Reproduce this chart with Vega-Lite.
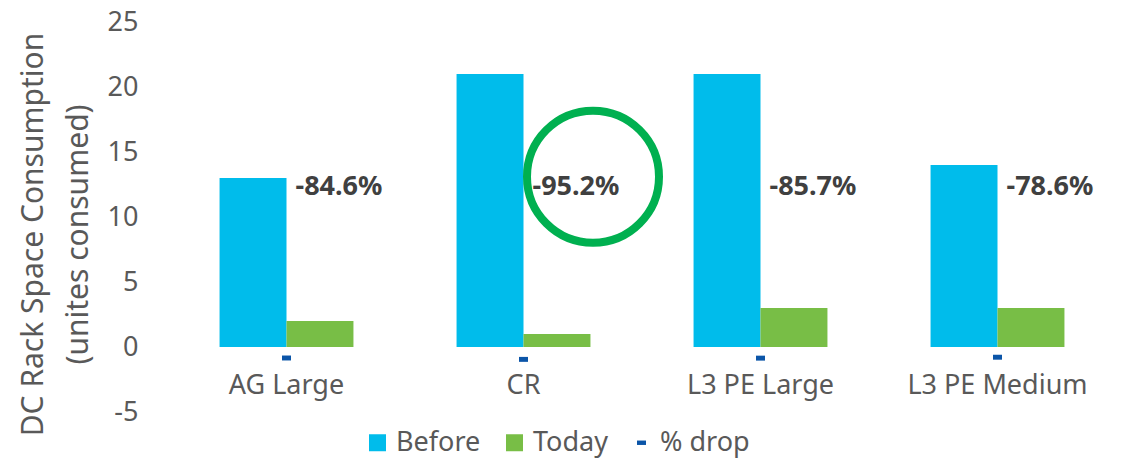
{
  "$schema": "https://vega.github.io/schema/vega-lite/v6.json",
  "width": 948,
  "height": 390,
  "autosize": {"type": "none"},
  "padding": {"left": 168, "top": 22, "right": 8, "bottom": 49},
  "background": "white",
  "config": {
    "view": {"stroke": null},
    "font": "Noto Sans"
  },
  "data": {
    "values": [
      {"cat": "AG Large", "series": "Before", "value": 13},
      {"cat": "AG Large", "series": "Today", "value": 2},
      {"cat": "CR", "series": "Before", "value": 21},
      {"cat": "CR", "series": "Today", "value": 1},
      {"cat": "L3 PE Large", "series": "Before", "value": 21},
      {"cat": "L3 PE Large", "series": "Today", "value": 3},
      {"cat": "L3 PE Medium", "series": "Before", "value": 14},
      {"cat": "L3 PE Medium", "series": "Today", "value": 3},
      {"cat": "AG Large", "series": "% drop", "value": -0.846, "label": "-84.6%"},
      {"cat": "CR", "series": "% drop", "value": -0.952, "label": "-95.2%"},
      {"cat": "L3 PE Large", "series": "% drop", "value": -0.857, "label": "-85.7%"},
      {"cat": "L3 PE Medium", "series": "% drop", "value": -0.786, "label": "-78.6%"}
    ]
  },
  "encoding": {
    "x": {
      "field": "cat",
      "type": "nominal",
      "sort": ["AG Large", "CR", "L3 PE Large", "L3 PE Medium"],
      "scale": {"paddingInner": 0, "paddingOuter": 0},
      "axis": {
        "title": null,
        "orient": "bottom",
        "offset": -65,
        "domain": false,
        "ticks": false,
        "tickSize": 0,
        "labelAngle": 0,
        "labelFontSize": 27,
        "labelLimit": 400,
        "labelColor": "#595959",
        "labelPadding": 25
      }
    }
  },
  "layer": [
    {
      "transform": [{"filter": "datum.series !== '% drop'"}],
      "mark": {"type": "bar"},
      "encoding": {
        "xOffset": {
          "field": "series",
          "type": "nominal",
          "scale": {"domain": ["Before", "Today"], "paddingInner": 0, "paddingOuter": 0.77}
        },
        "y": {
          "field": "value",
          "type": "quantitative",
          "scale": {"domain": [-5, 25], "nice": false, "zero": false},
          "axis": {
            "values": [-5, 0, 5, 10, 15, 20, 25],
            "labelExpr": "replace(datum.label, '\u2212', '-')",
            "domain": false,
            "ticks": false,
            "tickSize": 0,
            "grid": false,
            "labelFontSize": 27,
            "labelColor": "#595959",
            "labelPadding": 30,
            "title": ["DC Rack Space Consumption", "(unites consumed)"],
            "titleFontSize": 30,
            "titleFontWeight": "normal",
            "titleColor": "#595959",
            "titleLineHeight": 45,
            "titleLimit": 600,
            "titleX": -120,
            "titleY": 212
          }
        },
        "color": {
          "field": "series",
          "type": "nominal",
          "scale": {
            "domain": ["Before", "Today", "% drop"],
            "range": ["#00BCEB", "#78BE46", "#0B55A8"]
          },
          "legend": {
            "title": null,
            "orient": "none",
            "direction": "horizontal",
            "legendX": 196,
            "legendY": 407,
            "labelFontSize": 27,
            "labelColor": "#595959",
            "symbolType": "square",
            "symbolSize": 289,
            "symbolStrokeWidth": 0,
            "labelOffset": 5,
            "columnPadding": 20,
            "encode": {
              "symbols": {
                "update": {
                  "shape": {"signal": "datum.value === '% drop' ? 'M-0.53,-0.26H0.53V0.26H-0.53Z' : 'square'"}
                }
              }
            }
          }
        }
      }
    },
    {
      "transform": [{"filter": "datum.series === '% drop'"}],
      "mark": {
        "type": "point",
        "shape": "M-1,-0.55H1V0.55H-1Z",
        "filled": true,
        "size": 81,
        "opacity": 1,
        "color": "#0B55A8"
      },
      "encoding": {
        "y": {"field": "value", "type": "quantitative"}
      }
    },
    {
      "transform": [{"filter": "datum.series === '% drop'"}],
      "mark": {
        "type": "text",
        "align": "left",
        "baseline": "middle",
        "dx": 9,
        "fontSize": 27,
        "fontWeight": "bold",
        "color": "#404040"
      },
      "encoding": {
        "y": {"datum": 12.3},
        "text": {"field": "label"}
      }
    },
    {
      "transform": [{"filter": "datum.series === '% drop' && datum.cat === 'CR'"}],
      "mark": {
        "type": "point",
        "shape": "circle",
        "filled": false,
        "size": 17424,
        "stroke": "#00B050",
        "strokeWidth": 8,
        "opacity": 1
      },
      "encoding": {
        "xOffset": {"value": 188},
        "y": {"datum": 13.1}
      }
    }
  ]
}
